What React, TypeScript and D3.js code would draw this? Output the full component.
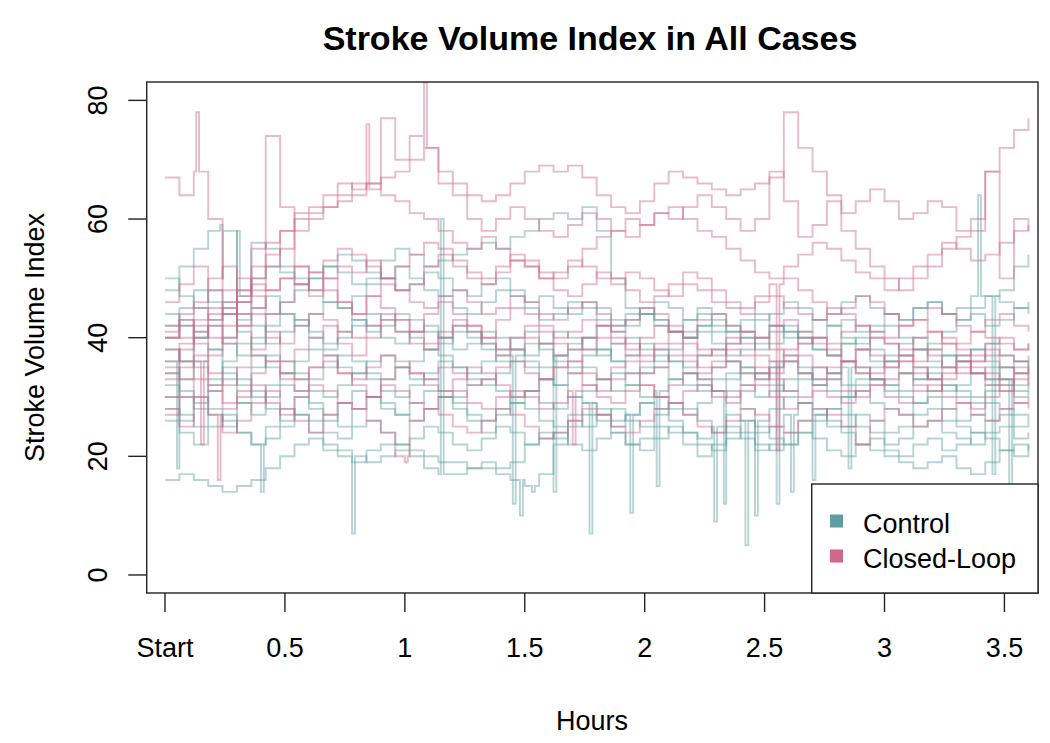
import React from 'react';
import * as d3 from 'd3';

// ---- data ----
const hourTicks = [0, 0.5, 1, 1.5, 2, 2.5, 3, 3.5];
const hourTickLabels = ['Start', '0.5', '1', '1.5', '2', '2.5', '3', '3.5'];
const sviTicks = [0, 20, 40, 60, 80];
const groupNames = ['Control', 'Closed-Loop'];
const sampleStepHours = 0.06; // one value every 0.06 h, 61 samples (0 .. 3.6 h)

const controlSeries: number[][] = [
  [16,17,16,15,14,15,16,18,20,22, 23,21,20,19,21,22,22,21,20,19, 19,18,18,17,16,15,17,22,26,25, 27,28,26,25,27,29,28,26,24,25, 23,21,22,24,26,27,25,24,22,21, 20,19,18,19,20,18,17,19,21,22,21],
  [30,27,25,28,26,24,22,25,28,27, 24,22,21,20,19,20,21,20,18,17, 17,18,19,18,19,22,24,23,25,27, 26,24,22,23,25,24,22,20,22,24, 26,25,23,22,24,26,28,27,25,24, 22,23,25,26,24,23,22,24,25,23,24],
  [48,52,55,58,50,46,56,55,52,50, 48,46,45,47,49,50,52,50,48,47, 45,44,46,48,47,45,43,44,46,45, 43,42,44,45,43,41,40,42,43,41, 40,39,41,42,40,38,37,39,40,38, 36,37,38,36,35,37,38,36,35,34,35],
  [38,36,40,42,39,37,40,44,46,48, 50,52,51,49,50,53,55,54,52,53, 54,55,56,55,57,58,60,61,60,62, 58,50,45,44,46,45,43,44,42,41, 43,44,42,40,41,43,42,40,39,41, 42,40,38,39,41,43,44,42,43,45,44],
  [35,33,36,38,34,32,35,37,36,34, 33,35,37,36,34,33,35,36,38,37, 35,34,36,37,38,36,35,37,39,40, 42,41,43,44,42,41,43,45,44,42, 41,43,44,46,45,43,44,46,47,45, 44,43,45,46,44,45,47,47,48,52,54],
  [32,30,28,31,33,29,27,30,32,31, 28,26,29,31,30,28,27,29,31,30, 28,26,24,27,29,28,26,25,27,29, 28,26,27,29,28,26,24,23,25,27, 26,24,25,27,29,28,26,25,27,26, 24,25,27,28,26,25,24,26,27,25,26],
  [44,42,40,43,45,41,39,42,44,43, 41,39,40,42,44,43,41,40,38,39, 41,40,38,36,37,39,38,36,35,37, 38,36,34,35,37,36,34,33,35,36, 34,33,35,36,34,32,33,35,34,33, 32,31,33,34,32,31,30,32,33,31,32],
  [36,38,35,33,36,39,37,35,34,36, 38,37,35,34,36,37,35,33,34,36, 35,33,32,34,36,35,33,32,34,35, 33,31,32,34,35,33,32,31,33,34, 32,30,31,33,34,32,31,30,32,33, 31,30,29,31,32,30,29,31,32,30,31],
  [28,26,30,27,25,29,31,28,26,30, 29,27,25,28,30,29,27,26,28,30, 29,27,26,28,30,31,29,28,30,29, 27,25,27,29,30,28,27,29,31,30, 28,26,28,30,29,27,28,30,31,29, 28,27,29,30,28,26,27,29,28,27,26],
  [50,47,45,48,46,43,45,47,44,42, 44,46,45,43,41,42,44,43,41,40, 42,41,39,38,40,41,39,37,38,40, 38,36,37,39,38,36,35,37,38,36, 35,34,36,37,35,33,34,36,35,33, 32,34,35,33,31,32,34,35,33,32,33],
  [40,43,41,38,40,44,42,39,41,43, 40,38,41,43,42,40,39,41,42,40, 38,39,41,40,38,37,39,41,40,38, 37,39,40,38,36,38,40,41,39,37, 38,40,42,41,39,40,42,43,41,42, 44,43,45,46,44,43,45,47,46,45,46],
  [26,24,22,25,27,24,22,23,25,27, 26,24,23,25,26,24,22,23,25,24, 22,21,23,25,24,22,23,24,22,21, 23,24,22,21,23,25,24,22,21,23, 24,22,21,22,24,23,21,20,22,23, 21,20,22,23,21,22,24,23,21,20,22],
  [42,45,48,46,44,47,50,52,51,49, 50,52,54,53,51,50,48,49,51,50, 48,47,49,50,48,46,47,45,44,46, 45,43,42,44,43,41,40,42,41,39, 40,38,39,41,40,38,37,39,38,36, 37,39,40,38,37,36,38,39,37,36,35],
  [34,31,29,32,35,33,30,32,34,33, 31,30,32,34,33,31,30,32,33,31, 30,32,33,31,29,31,33,32,30,31, 33,34,32,30,31,33,34,32,31,33, 35,34,32,31,33,35,34,32,33,35, 36,34,33,35,37,36,34,33,35,36,34],
];

// brief excursions: [series index, hour, value]
const controlSpikes: [number, number, number][] = [
  [1, 0.78, 7], [0, 1.48, 10], [0, 1.53, 14], [5, 1.77, 7], [8, 1.94, 10.5],
  [5, 2.29, 9], [8, 2.33, 12], [5, 2.42, 5], [8, 2.46, 10], [9, 2.55, 12],
  [5, 2.61, 14], [0, 2.7, 16], [6, 1.45, 12], [2, 0.23, 59], [4, 3.39, 64],
  [10, 3.45, 17], [6, 3.52, 15], [7, 0.05, 18], [11, 0.4, 14], [13, 2.05, 15],
  [1, 1.15, 60], [12, 0.3, 58], [9, 1.62, 14], [6, 2.85, 18],
];

const closedLoopSeries: number[][] = [
  [67,64,68,60,48,42,38,40,36,38, 40,42,39,37,40,43,41,39,38,40, 42,41,39,37,38,40,39,37,36,38, 40,39,37,36,38,39,37,35,36,38, 37,35,34,36,37,35,34,36,35,34, 36,37,35,33,34,36,35,34,33,35,34],
  [38,36,40,42,39,44,55,74,62,52, 48,50,46,44,47,45,43,41,44,46, 44,42,40,43,45,44,42,40,41,43, 42,40,38,40,42,41,39,37,38,40, 39,37,36,38,40,39,37,36,38,37, 35,36,38,37,35,34,36,37,35,34,33],
  [34,38,41,44,42,46,48,52,55,58, 60,62,63,64,66,77,70,74,72,66, 64,60,58,60,62,60,58,57,59,61, 60,58,57,59,61,62,60,58,57,55, 53,51,50,52,54,56,55,53,51,50, 48,50,52,54,56,55,53,54,56,58,59],
  [40,44,46,50,52,48,52,56,58,60, 61,62,64,66,65,67,68,70,72,68, 66,64,63,64,66,68,69,68,69,67, 64,62,61,63,66,68,67,66,65,64, 65,66,67,78,72,68,64,61,63,65, 63,60,61,63,62,58,60,68,72,75,77],
  [42,40,43,45,44,47,49,48,50,52, 51,53,55,54,52,50,52,54,56,55, 53,51,50,52,54,53,51,50,52,55, 57,58,60,59,61,60,62,64,62,60, 58,60,68,63,57,59,63,58,55,52, 50,48,50,52,55,57,58,68,50,60,58],
  [36,39,42,40,44,46,45,48,50,49, 47,50,52,51,53,50,48,49,52,54, 52,50,49,51,53,52,50,48,47,49, 51,50,48,46,47,49,51,50,48,46, 45,47,49,50,48,46,44,45,47,46, 44,42,43,45,44,42,41,43,44,42,41],
  [30,33,36,32,29,31,34,36,33,31, 35,37,34,32,30,33,35,34,32,31, 33,35,34,32,30,31,33,35,34,32, 31,33,34,32,30,32,34,33,31,30, 32,34,33,31,30,32,33,31,30,32, 33,34,32,31,33,35,34,32,31,33,32],
  [41,43,39,37,40,42,44,41,39,42, 44,43,41,40,42,44,43,41,39,41, 43,42,40,38,40,42,41,39,38,40, 42,41,39,37,39,41,40,38,37,39, 41,40,38,37,39,40,38,36,38,40, 39,37,36,38,39,37,36,38,37,36,37],
  [28,25,30,27,24,26,29,31,28,26, 24,27,29,28,26,24,20,26,28,27, 25,24,26,28,27,25,23,24,26,28, 27,25,24,26,28,29,27,25,24,26, 28,27,25,24,26,28,27,25,22,26, 28,27,25,26,28,29,27,26,28,29,28],
  [46,49,52,48,45,50,47,44,46,49, 51,48,46,44,47,49,48,46,45,47, 48,46,44,45,47,46,44,43,45,46, 44,42,43,45,44,42,41,43,44,42, 41,40,42,43,41,40,39,41,42,40, 39,38,40,41,39,38,37,39,40,38,39],
  [33,35,37,34,32,35,37,36,34,33, 35,36,34,33,35,37,36,34,33,35, 34,32,33,35,36,34,33,35,36,34, 33,35,36,34,35,37,36,34,35,36, 34,33,35,36,34,33,35,36,34,33, 35,36,34,33,35,36,34,33,32,34,33],
  [40,42,45,43,46,48,50,54,58,61, 62,64,66,65,66,64,63,61,60,58, 56,55,57,55,53,52,50,51,53,52, 50,49,51,50,48,47,49,48,46,45, 44,46,47,45,44,43,45,44,42,41, 40,42,43,41,40,39,41,40,39,38,39],
  [27,30,33,31,28,30,32,29,27,30, 32,31,29,28,30,32,31,29,28,30, 31,29,28,30,31,30,28,29,31,32, 30,29,31,32,30,29,31,32,30,29, 31,32,30,28,29,31,30,29,31,32, 30,29,31,32,30,29,28,30,31,29,30],
];

const closedLoopSpikes: [number, number, number][] = [
  [0, 0.13, 78], [2, 1.08, 83], [8, 0.22, 16], [8, 1.0, 19], [5, 2.55, 21],
  [6, 0.15, 22], [12, 1.7, 22], [3, 0.84, 76],
];

const colors = { control: '#5F9EA0', closedLoop: '#CD6889' };
const FONT = '"Liberation Sans", Arial, Helvetica, sans-serif';

function buildPoints(values: number[], spikes: [number, number, number][], idx: number): [number, number][] {
  const pts: [number, number][] = values.map((v, i) => [i * sampleStepHours, v]);
  spikes.filter(s => s[0] === idx).forEach(([, h, s]) => {
    const i = Math.min(values.length - 1, Math.floor(h / sampleStepHours));
    pts.push([h, s]);
    pts.push([h + 0.012, values[i]]);
  });
  pts.sort((a, b) => a[0] - b[0]);
  return pts;
}

export default function App() {
  const W = 1050, H = 743;
  const left = 146.7, right = 1038, top = 82, bottom = 593;
  const x = d3.scaleLinear().domain([-0.0763, 3.64]).range([left, right]);
  const y = d3.scaleLinear().domain([-3.04, 83.1]).range([bottom, top]);
  const line = d3.line<[number, number]>().x(d => x(d[0])).y(d => y(d[1])).curve(d3.curveStepAfter);

  return (
    <svg width={W} height={H} style={{ position: 'absolute', left: 0, top: 0, background: '#fff' }}
      fontFamily={FONT}>
      <rect x={0} y={0} width={W} height={H} fill="#fff" />
      <defs>
        <clipPath id="plotClip">
          <rect x={left} y={top} width={right - left} height={bottom - top} />
        </clipPath>
      </defs>
      <g clipPath="url(#plotClip)" fill="none" strokeWidth={1.9} strokeLinejoin="miter">
        {controlSeries.map((vals, i) => (
          <path key={'c' + i} d={line(buildPoints(vals, controlSpikes, i)) || ''}
            stroke={colors.control} strokeOpacity={0.45} />
        ))}
        {closedLoopSeries.map((vals, i) => (
          <path key={'p' + i} d={line(buildPoints(vals, closedLoopSpikes, i)) || ''}
            stroke={colors.closedLoop} strokeOpacity={0.45} />
        ))}
      </g>
      {/* plot box */}
      <rect x={left} y={top} width={right - left} height={bottom - top} fill="none" stroke="#222" strokeWidth={1.4} />
      {/* y axis */}
      {sviTicks.map(v => (
        <g key={'y' + v}>
          <line x1={left - 18.5} x2={left} y1={y(v)} y2={y(v)} stroke="#222" strokeWidth={1.4} />
          <text transform={`translate(107,${y(v)}) rotate(-90)`} textAnchor="middle" fontSize={27} fill="#000">{v}</text>
        </g>
      ))}
      {/* x axis */}
      {hourTicks.map((h, i) => (
        <g key={'x' + h}>
          <line x1={x(h)} x2={x(h)} y1={bottom} y2={bottom + 19} stroke="#222" strokeWidth={1.4} />
          <text x={x(h)} y={657} textAnchor="middle" fontSize={27} fill="#000">{hourTickLabels[i]}</text>
        </g>
      ))}
      {/* titles */}
      <text x={590} y={50} textAnchor="middle" fontSize={34} fontWeight="bold" fill="#000">Stroke Volume Index in All Cases</text>
      <text x={592} y={730} textAnchor="middle" fontSize={27} fill="#000">Hours</text>
      <text transform={`translate(44,${(top + bottom) / 2}) rotate(-90)`} textAnchor="middle" fontSize={27} fill="#000">Stroke Volume Index</text>
      {/* legend */}
      <rect x={811.7} y={484} width={right - 811.7} height={bottom - 484} fill="#fff" stroke="#222" strokeWidth={1.4} />
      {groupNames.map((g, i) => (
        <g key={g}>
          <rect x={830} y={(i === 0 ? 521 : 556) - 6.5} width={13} height={13}
            fill={i === 0 ? colors.control : colors.closedLoop} />
          <text x={863} y={i === 0 ? 533 : 568} fontSize={27} fill="#000">{g}</text>
        </g>
      ))}
    </svg>
  );
}
